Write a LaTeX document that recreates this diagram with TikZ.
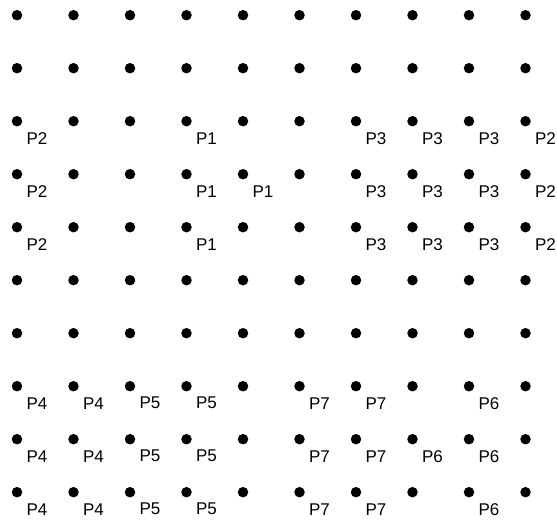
\documentclass[tikz,border=0pt]{standalone}
\usepackage{fontspec}
\setmainfont{Liberation Sans}
\usetikzlibrary{calc}

\begin{document}
\begin{tikzpicture}[
        x=1pt, y=-1pt,
        dot/.style={circle, fill=black, inner sep=0pt, minimum size=10.5pt},
        lbl/.style={inner sep=0pt, font=\fontsize{17}{17}\selectfont}
    ]
\useasboundingbox (0,0) rectangle (557,525);

% Grid of points, 10 rows by 10 columns
\foreach \r in {0,...,9}
  \foreach \c in {0,...,9}
    \node[dot] (d\r\c) at ({17+56.5*\c},{15.2+53*\r}) {};

% Upper block, rows 2 to 4
\foreach \r in {2,3,4} {
  \node[lbl] (a\r0) at ($(d\r0)+(20,17)$) {P2};
  \node[lbl] (a\r3) at ($(d\r3)+(20,17)$) {P1};
  \node[lbl] (a\r6) at ($(d\r6)+(20,17)$) {P3};
  \node[lbl] (a\r7) at ($(d\r7)+(20,17)$) {P3};
  \node[lbl] (a\r8) at ($(d\r8)+(20,17)$) {P3};
  \node[lbl] (a\r9) at ($(d\r9)+(20,17)$) {P2};
}
\node[lbl] (a34) at ($(d34)+(20,17)$) {P1};

% Lower block, rows 7 to 9
\foreach \r in {7,8,9} {
  \node[lbl] (b\r0) at ($(d\r0)+(20,17)$) {P4};
  \node[lbl] (b\r1) at ($(d\r1)+(20,17)$) {P4};
  \node[lbl] (b\r2) at ($(d\r2)+(20,17)$) {P5};
  \node[lbl] (b\r3) at ($(d\r3)+(20,17)$) {P5};
  \node[lbl] (b\r5) at ($(d\r5)+(20,17)$) {P7};
  \node[lbl] (b\r6) at ($(d\r6)+(20,17)$) {P7};
  \node[lbl] (b\r8) at ($(d\r8)+(20,17)$) {P6};
}
\node[lbl] (b87) at ($(d87)+(20,17)$) {P6};
\end{tikzpicture}
\end{document}
